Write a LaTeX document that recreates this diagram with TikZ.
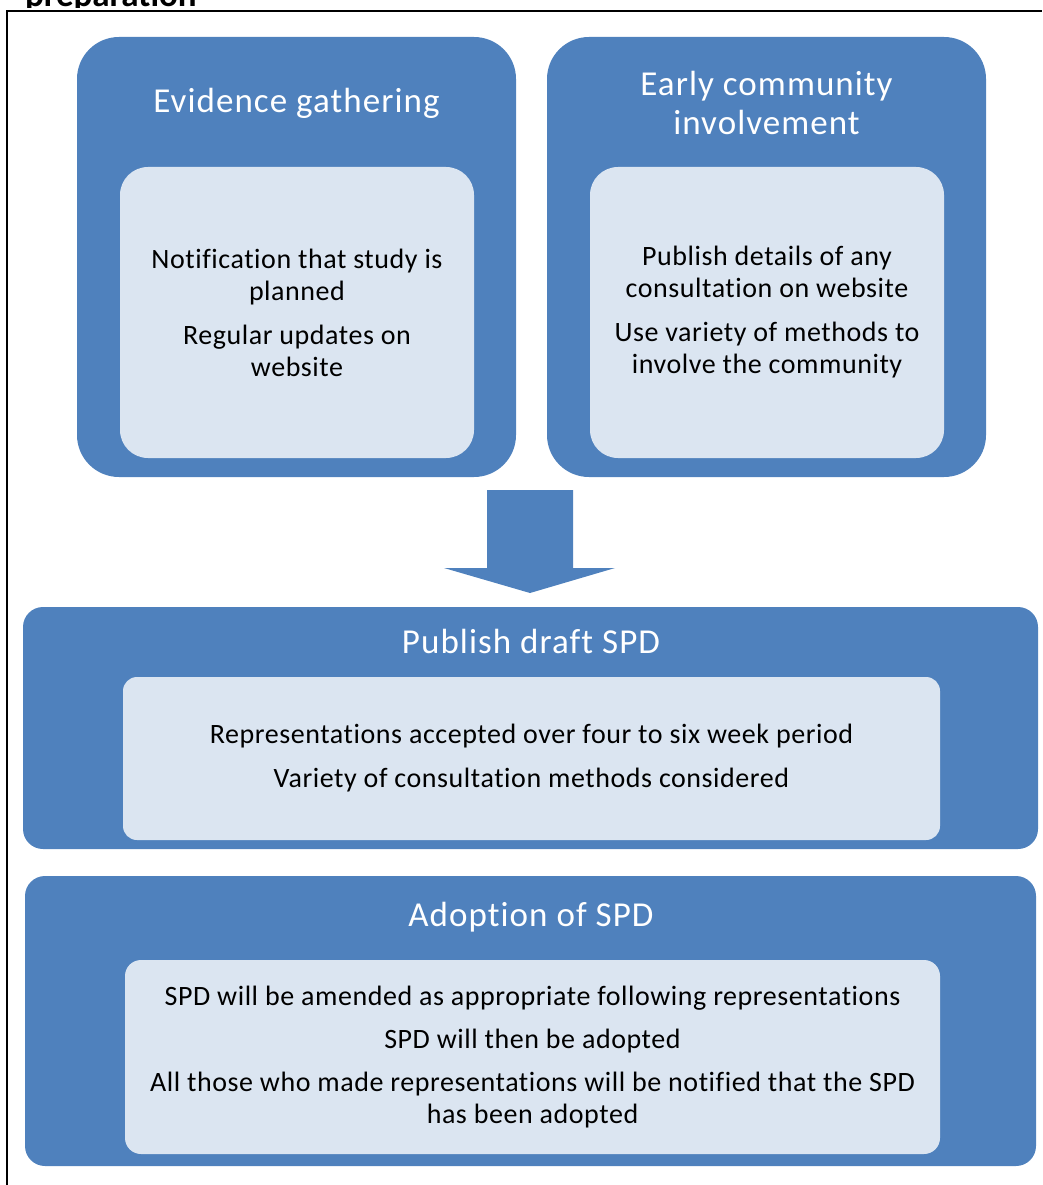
\documentclass[tikz,border=0pt]{standalone}
\usepackage{fontspec}
\setmainfont[Ligatures=NoCommon]{Carlito}
\newfontfamily\bodyfont[Ligatures=NoCommon,LetterSpace=2]{Carlito}
\newfontfamily\titlefont[Ligatures=NoCommon,LetterSpace=3]{Carlito}
\definecolor{outerblue}{HTML}{4F81BD}
\definecolor{innerblue}{HTML}{DBE5F1}
\tikzset{
  outerbox/.style={fill=outerblue, draw=none, inner sep=0pt, outer sep=0pt},
  innerbox/.style={fill=innerblue, draw=none, inner sep=0pt, outer sep=0pt, align=center,
     text=black, font=\bodyfont\fontsize{28}{32}\selectfont},
  titletext/.style={text=white, align=center, inner sep=0pt, font=\titlefont\fontsize{35}{39}\selectfont},
  blockarrow/.style={fill=outerblue, draw=none},
  frameline/.style={line width=2.5pt, black}
}
\begin{document}
\begin{tikzpicture}[x=1pt,y=-1pt]
\useasboundingbox (0,0) rectangle (1042,1185);
% cut heading
\begin{scope}
\clip (0,0) rectangle (1042,8);
\node[anchor=base west, inner sep=0pt, font=\fontsize{35}{40}\selectfont\bfseries] (head) at (25,7) {preparation};
\end{scope}
% frame
\draw[frameline] (7,1185) -- (7,11) -- (1042,11);
% top boxes
\node[outerbox, rounded corners=42pt, minimum width=439pt, minimum height=440pt] (ev) at (296.5,257) {};
\node[outerbox, rounded corners=42pt, minimum width=439pt, minimum height=440pt] (ec) at (766.5,257) {};
\node[titletext] (evt) at (296.5,103) {Evidence gathering};
\node[titletext] (ect) at (766.5,102.5) {Early community\\involvement};
\node[innerbox, rounded corners=28pt, minimum width=354pt, minimum height=291pt] (evi) at (297,312.5)
  {Notification that study is\\planned\\[12pt]Regular updates on\\website};
\node[innerbox, rounded corners=28pt, minimum width=354pt, minimum height=291pt] (eci) at (767,312.5)
  {Publish details of any\\consultation on website\\[12pt]Use variety of methods to\\involve the community};
% block arrow
\fill[blockarrow] (487,490) -- (573,490) -- (573,568) -- (615,568) -- (530,593) -- (444,568) -- (487,568) -- cycle;
% publish draft
\node[outerbox, rounded corners=20pt, minimum width=1015pt, minimum height=242pt] (pd) at (530.5,728) {};
\node[titletext] (pdt) at (531,641) {Publish draft SPD};
\node[innerbox, rounded corners=14pt, minimum width=817pt, minimum height=163pt] (pdi) at (531.5,758.5)
  {Representations accepted over four to six week period\\[12pt]Variety of consultation methods considered};
% adoption
\node[outerbox, rounded corners=20pt, minimum width=1011pt, minimum height=290pt] (ad) at (530.5,1021) {};
\node[titletext] (adt) at (531,917) {Adoption of SPD};
\node[innerbox, rounded corners=16pt, minimum width=815pt, minimum height=194pt] (adi) at (532.5,1057)
  {SPD will be amended as appropriate following representations\\[11pt]SPD will then be adopted\\[11pt]All those who made representations will be notified that the SPD\\has been adopted};
\end{tikzpicture}
\end{document}
